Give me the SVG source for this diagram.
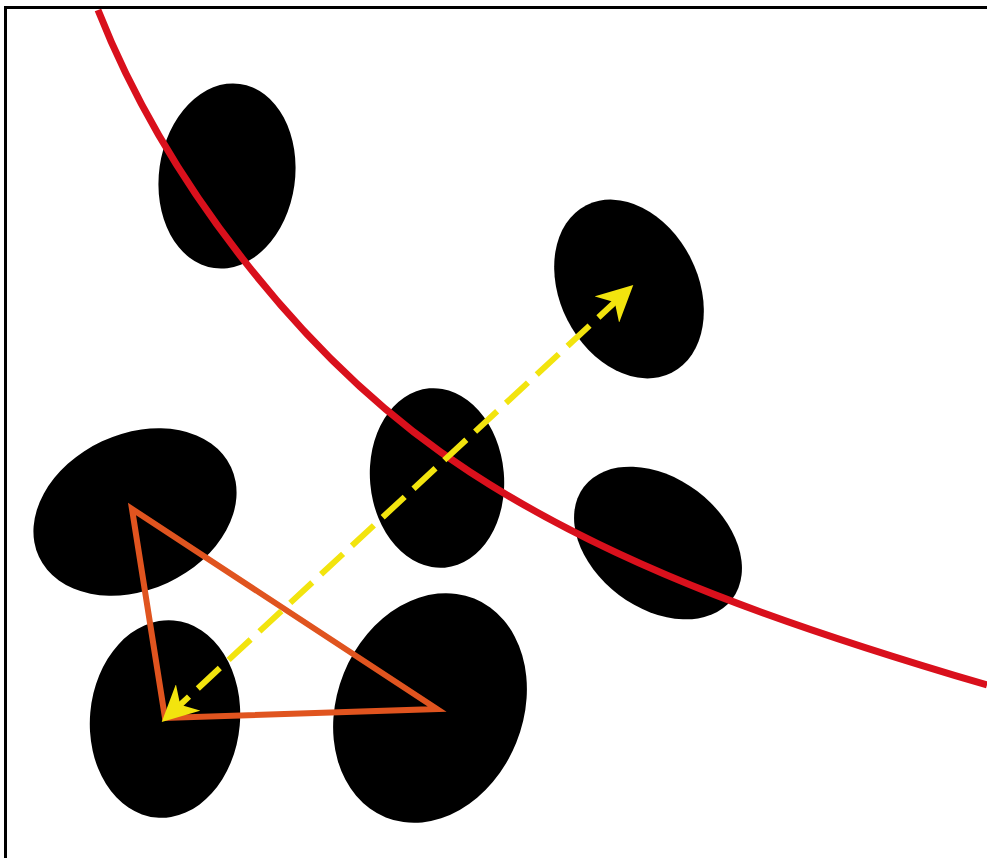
<svg xmlns="http://www.w3.org/2000/svg" width="987" height="858" viewBox="0 0 987 858">
<style>
.blob{fill:#000}
.curve{fill:none;stroke:#d9101c;stroke-width:7}
.tri{fill:none;stroke:#e0541f;stroke-width:6;stroke-linejoin:miter}
.arrow{fill:none;stroke:#f2e40e;stroke-width:6;stroke-dasharray:30 12}
</style>
<defs>
<marker id="ah" viewBox="0 0 10 10" refX="8" refY="5" markerWidth="6" markerHeight="6" orient="auto-start-reverse" markerUnits="strokeWidth">
<path d="M0,0 L10,5 L0,10 L3,5 Z" fill="#f2e40e"/>
</marker>
</defs>
<rect x="0" y="0" width="987" height="858" fill="#fff"/>
<path d="M5.5,858 V7.5 H987" fill="none" stroke="#000" stroke-width="3"/>
<g id="e1"><ellipse class="blob" cx="227" cy="176" rx="68" ry="93" transform="rotate(8 227 176)"/></g>
<g id="e2"><ellipse class="blob" cx="629" cy="289" rx="69" ry="94" transform="rotate(-27 629 289)"/></g>
<g id="e3"><ellipse class="blob" cx="437" cy="478" rx="67" ry="90" transform="rotate(-5 437 478)"/></g>
<g id="e4"><ellipse class="blob" cx="135" cy="512" rx="106" ry="78" transform="rotate(-25 135 512)"/></g>
<g id="e5"><ellipse class="blob" cx="658" cy="543" rx="93" ry="65" transform="rotate(37 658 543)"/></g>
<g id="e6"><ellipse class="blob" cx="165" cy="719" rx="75" ry="99" transform="rotate(5 165 719)"/></g>
<g id="e7"><ellipse class="blob" cx="430" cy="708" rx="93" ry="118" transform="rotate(22 430 708)"/></g>
<g id="connectors">
<path class="curve" d="M98,10 C165,180 305,365 470,472 C620,570 800,630 987,685"/>
<polygon class="tri" points="132,509 165,718 437,709"/>
<line class="arrow" x1="167" y1="717" x2="628" y2="290" marker-start="url(#ah)" marker-end="url(#ah)"/>
</g>
</svg>
